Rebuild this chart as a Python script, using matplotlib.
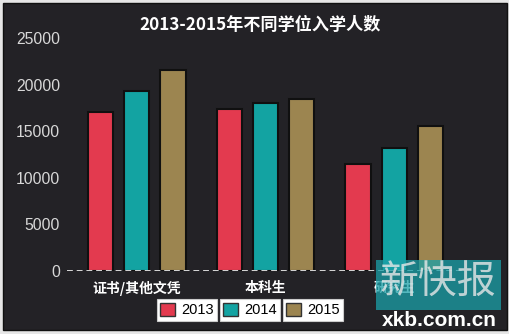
import matplotlib.pyplot as plt
import numpy as np
from matplotlib.patches import Rectangle, Patch

plt.rcParams['font.family'] = ['Liberation Sans', 'Noto Sans CJK SC', 'DejaVu Sans']

# datos
categorias = ['证书/其他文凭', '本科生', '研究生']
anios = ['2013', '2014', '2015']
v2013 = [17100, 17400, 11500]
v2014 = [19300, 18050, 13200]
v2015 = [21550, 18450, 15550]
colores = ['#e33a4f', '#13a3a2', '#9c8550']
yticks = [0, 5000, 10000, 15000, 20000, 25000]

fig = plt.figure(figsize=(5.10, 3.34), dpi=100, facecolor='#e6e6e6')
fondo = Rectangle((3 / 510, 4 / 334), 504 / 510, 327 / 334, transform=fig.transFigure,
                  facecolor='#232226', edgecolor='#111111', lw=1, zorder=-5)
fig.patches.append(fondo)

ax = fig.add_axes([67 / 510, 63 / 334, 397 / 510, 233 / 334])
ax.set_zorder(1)
ax.set_facecolor('none')

x = np.arange(len(categorias))
paso = 0.28
ancho = 0.2
for i, (vals, col) in enumerate(zip([v2013, v2014, v2015], colores)):
    ax.bar(x + (i - 1) * paso, vals, width=ancho, color=col, edgecolor='#101010', lw=1.5, zorder=3)

ax.axhline(0, color='#d8d8d8', ls=(0, (3, 2)), lw=1.4, zorder=4)
ax.set_xlim(-0.54, 2.54)
ax.set_ylim(0, 25000)
ax.set_yticks(yticks)
ax.set_yticklabels([str(t) for t in yticks], color='#d8d8d8', fontsize=11.3)
ax.set_xticks(x)
ax.set_xticklabels(categorias, color='white', fontsize=10, fontweight='bold',
                   family=['Noto Sans CJK SC', 'DejaVu Sans'])
ax.tick_params(length=0, axis='y', pad=5)
ax.tick_params(length=0, axis='x', pad=7)
for s in ax.spines.values():
    s.set_visible(False)

fig.text(0.51, 1 - 25 / 334, '2013-2015年不同学位入学人数', ha='center', va='center', color='white',
         fontsize=12.3, fontweight='bold', family=['Noto Sans CJK SC', 'DejaVu Sans'])

# leyenda: una caja blanca por año
centros = [187, 250, 313]
for anio, col, cx in zip(anios, colores, centros):
    leg = fig.legend(handles=[Patch(facecolor=col, edgecolor='#333333')], labels=[anio],
                     loc='center', bbox_to_anchor=(cx / 510, 1 - 310 / 334), fontsize=10.5,
                     frameon=True, fancybox=False, framealpha=1, edgecolor='#cccccc',
                     handlelength=1.0, handleheight=1.0, handletextpad=0.4,
                     borderpad=0.25, borderaxespad=0)
    leg.get_frame().set_linewidth(0.8)
    leg.set_zorder(2)

# marca de agua del periodico
marca = Rectangle((376 / 510, 1 - 310 / 334), 125 / 510, 50 / 334, transform=fig.transFigure,
                  facecolor='#1aa0a8', alpha=0.75, edgecolor='none', zorder=5)
fig.patches.append(marca)
fig.text(438 / 510, 1 - 283 / 334, '新快报', ha='center', va='center', color='#e8e8e8', alpha=0.8,
         fontsize=28, family=['Noto Sans CJK SC'], zorder=6)
fig.text(439 / 510, 1 - 320 / 334, 'xkb.com.cn', ha='center', va='center', color='white',
         fontsize=15, fontweight='bold', zorder=6)

fig.savefig('out.png', dpi=100, facecolor=fig.get_facecolor())
